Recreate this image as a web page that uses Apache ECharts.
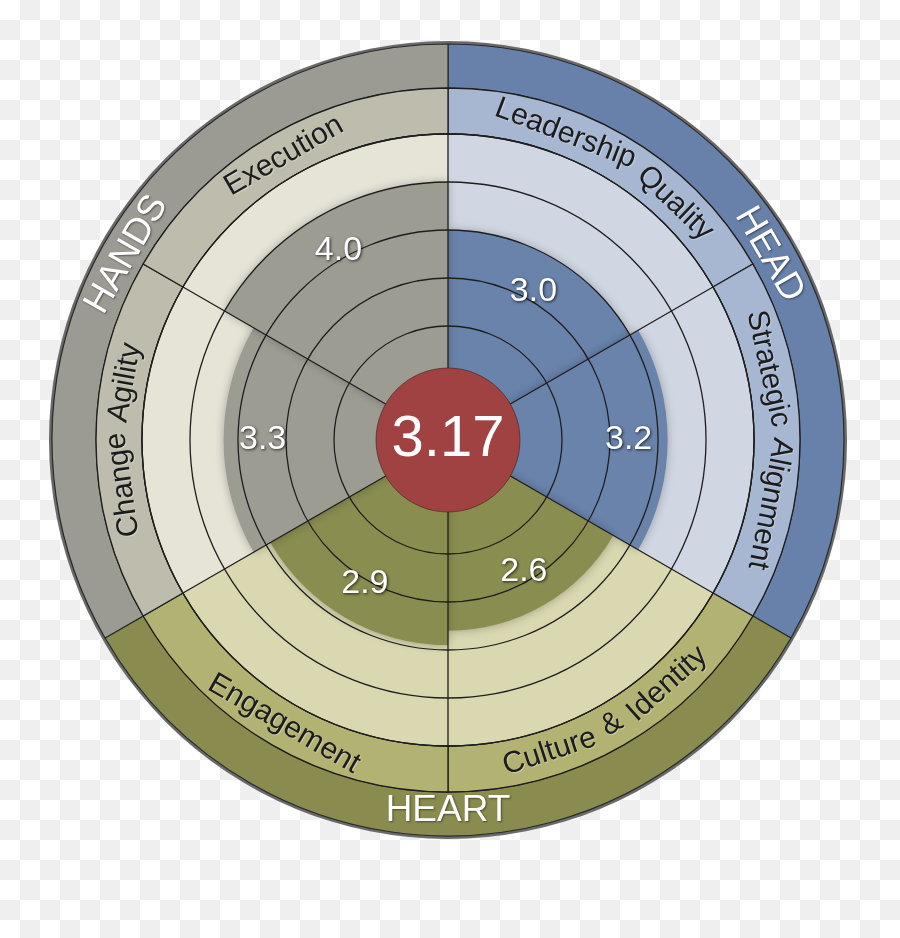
<!DOCTYPE html>
<html>
<head>
<meta charset="utf-8">
<script src="https://cdn.jsdelivr.net/npm/echarts@6/dist/echarts.min.js"></script>
<style>
html,body{margin:0;padding:0;width:900px;height:938px;overflow:hidden;
  background-color:#ffffff;
  background-image:repeating-conic-gradient(#efefef 0 25%, #ffffff 0 50%);
  background-size:40px 40px;}
#chart{width:900px;height:938px;}
</style>
</head>
<body>
<div id="chart"></div>
<script>
// ---------------- data ----------------
const categories = ['Leadership Quality', 'Strategic Alignment', 'Culture & Identity', 'Engagement', 'Change Agility', 'Execution'];
const scores = [3.0, 3.2, 2.6, 2.9, 3.3, 4.0];
const categoryGroup = ['HEAD', 'HEAD', 'HEART', 'HEART', 'HANDS', 'HANDS'];
const groups = ['HEAD', 'HEART', 'HANDS'];
const scaleMin = 0;
const scaleMax = 5;
const scaleStep = 1;

// ---------------- styling ----------------
const palette = {
  HEAD:  { band: '#6781aa', cat: '#a7b7d1', light: '#d1d7e2', bar: '#6983ab' },
  HEART: { band: '#8a8b4e', cat: '#b2b272', light: '#d9d8b1', bar: '#8a8d50' },
  HANDS: { band: '#9b9b93', cat: '#bebcad', light: '#e6e3d7', bar: '#9d9c93' }
};
const CX = 448, CY = 440;
const R_ZERO = 66, R_MAX = 306, R_CAT = 352, R_OUT = 396, R_CORE = 72;
const FONT = '"Liberation Sans", Arial, Helvetica, sans-serif';

const overall = scores.reduce((a, b) => a + b, 0) / scores.length;
const groupCounts = groups.map(g => categoryGroup.filter(x => x === g).length);

// ---------------- curved (word-by-word) labels ----------------
const mctx = document.createElement('canvas').getContext('2d');
function tw(s, size) { mctx.font = size + 'px ' + FONT; return mctx.measureText(s).width; }

function arcLabel(text, midDeg, r, size, color, extra) {
  const words = text.split(' ');
  const space = tw(' ', size) * 1.2;
  const widths = words.map(w => tw(w, size));
  const total = widths.reduce((a, b) => a + b, 0) + space * (words.length - 1);
  const norm = ((midDeg % 360) + 360) % 360;
  const bottom = norm > 90.5 && norm < 269.5;
  const dir = bottom ? -1 : 1;
  let off = -total / 2;
  return words.map((w, k) => {
    const along = off + widths[k] / 2;
    off += widths[k] + space;
    const deg = norm + dir * (along / r) * 180 / Math.PI;
    const rad = deg * Math.PI / 180;
    return {
      type: 'text',
      x: CX + r * Math.sin(rad),
      y: CY - r * Math.cos(rad),
      rotation: bottom ? Math.PI - rad : -rad,
      silent: true,
      z: 100,
      style: Object.assign({
        text: w,
        fill: color,
        font: size + 'px ' + FONT,
        textAlign: 'center', align: 'center',
        textVerticalAlign: 'middle', verticalAlign: 'middle'
      }, extra || {})
    };
  });
}

const sector = 360 / categories.length;
const graphics = [];
categories.forEach((c, i) => {
  graphics.push(...arcLabel(c, sector * (i + 0.5), 328, 30, '#1c1c1c',
    { textShadowColor: 'rgba(255,255,255,0.35)', textShadowBlur: 1, textShadowOffsetX: 1, textShadowOffsetY: 1 }));
});
let acc = 0;
groups.forEach((g, i) => {
  const mid = (acc + groupCounts[i] / 2) * sector;
  acc += groupCounts[i];
  graphics.push(...arcLabel(g, mid, 371, 37, '#ffffff',
    { textShadowColor: 'rgba(0,0,0,0.45)', textShadowBlur: 2, textShadowOffsetX: 1, textShadowOffsetY: 1 }));
});

// ---------------- chart ----------------
const chart = echarts.init(document.getElementById('chart'), null, { renderer: 'canvas' });
const noEmph = { disabled: true };

chart.setOption({
  animation: false,
  polar: { center: [CX, CY], radius: [R_ZERO, R_MAX] },
  angleAxis: {
    type: 'category', data: categories, startAngle: 90, clockwise: true, boundaryGap: true,
    axisLine: { show: true, lineStyle: { color: '#1e1e1e', width: 1.3 } },
    axisTick: { show: false }, axisLabel: { show: false },
    splitLine: { show: true, lineStyle: { color: '#1e1e1e', width: 1.3 } },
    z: 4
  },
  radiusAxis: {
    type: 'value', min: scaleMin, max: scaleMax, interval: scaleStep,
    axisLine: { show: false }, axisTick: { show: false }, axisLabel: { show: false },
    splitLine: { show: true, lineStyle: { color: '#1e1e1e', width: 1.3 } },
    z: 4
  },
  series: [
    { // outer rim
      type: 'pie', center: [CX, CY], radius: [R_OUT - 1, R_OUT + 3], startAngle: 90,
      silent: true, z: 1, label: { show: false }, emphasis: noEmph,
      data: [{ value: 1, itemStyle: { color: '#6a6a6a' } }]
    },
    { // group band
      type: 'pie', center: [CX, CY], radius: [R_CAT, R_OUT], startAngle: 90, clockwise: true,
      silent: true, z: 1, label: { show: false }, emphasis: noEmph,
      itemStyle: { borderColor: '#2a2a2a', borderWidth: 1.2 },
      data: groups.map((g, i) => ({ name: g, value: groupCounts[i], itemStyle: { color: palette[g].band } }))
    },
    { // category name band
      type: 'pie', center: [CX, CY], radius: [R_MAX, R_CAT], startAngle: 90, clockwise: true,
      silent: true, z: 1, label: { show: false }, emphasis: noEmph,
      itemStyle: { borderColor: '#1e1e1e', borderWidth: 1.3 },
      data: categories.map((c, i) => ({ name: c, value: 1, itemStyle: { color: palette[categoryGroup[i]].cat } }))
    },
    { // light scale background
      type: 'pie', center: [CX, CY], radius: [R_ZERO, R_MAX], startAngle: 90, clockwise: true,
      silent: true, z: 1, label: { show: false }, emphasis: noEmph,
      data: categories.map((c, i) => ({ name: c, value: 1, itemStyle: { color: palette[categoryGroup[i]].light } }))
    },
    { // score bars
      type: 'bar', coordinateSystem: 'polar', barCategoryGap: '0%', barGap: '-100%',
      silent: true, z: 3,
      itemStyle: { shadowBlur: 10, shadowColor: 'rgba(0,0,0,0.28)' },
      data: scores.map((v, i) => ({ value: v, itemStyle: { color: palette[categoryGroup[i]].bar } }))
    },
    { // score labels (on top of ring lines)
      type: 'bar', coordinateSystem: 'polar', barCategoryGap: '0%', barGap: '-100%',
      silent: true, z: 5,
      itemStyle: { color: 'rgba(0,0,0,0)' },
      label: {
        show: true, position: 'insideEnd', distance: 39, rotate: 0,
        align: 'center', verticalAlign: 'middle',
        formatter: p => Number(p.value).toFixed(1),
        color: '#ffffff', fontSize: 34, fontFamily: FONT,
        textShadowColor: 'rgba(0,0,0,0.75)', textShadowBlur: 3, textShadowOffsetX: 1, textShadowOffsetY: 1
      },
      data: scores
    },
    { // overall score core
      type: 'pie', center: [CX, CY], radius: [0, R_CORE], silent: true, z: 6, emphasis: noEmph,
      itemStyle: { color: '#a04142', borderColor: 'rgba(60,30,30,0.6)', borderWidth: 1 },
      label: {
        show: true, position: 'center', formatter: () => overall.toFixed(2),
        color: '#ffffff', fontSize: 58, fontFamily: FONT
      },
      labelLine: { show: false },
      data: [{ name: 'overall', value: 1 }]
    }
  ],
  graphic: { elements: graphics }
});
</script>
</body>
</html>
